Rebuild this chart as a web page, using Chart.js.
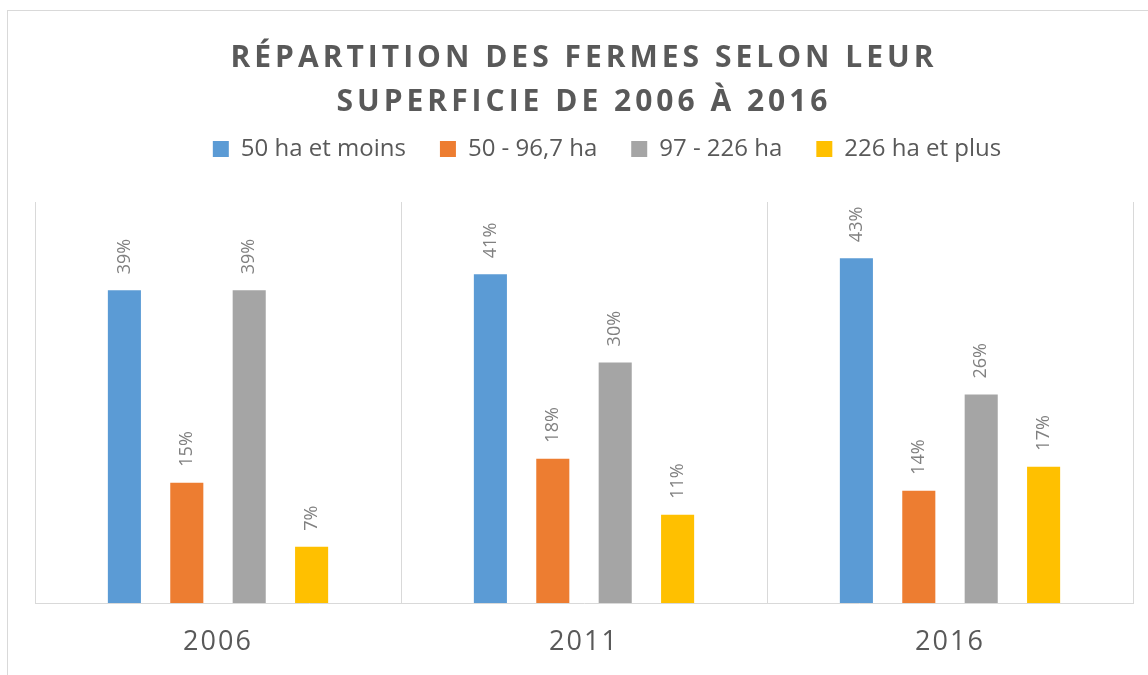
<!DOCTYPE html>
<html lang="fr">
<head>
<meta charset="utf-8">
<title>Répartition des fermes selon leur superficie de 2006 à 2016</title>
<script src="https://cdn.jsdelivr.net/npm/chart.js@4.4.1/dist/chart.umd.min.js"></script>
<style>
  html, body { margin: 0; padding: 0; background: #ffffff; overflow: hidden; }
  #frame { position: absolute; left: 7px; top: 10px; width: 1200px; height: 720px; border: 1px solid #d9d9d9; }
  #c { position: absolute; left: 0; top: 0; z-index: 1; }
</style>
</head>
<body>
<div id="frame"></div>
<canvas id="c" width="1148" height="675"></canvas>
<script>
const titleLines = ['RÉPARTITION DES FERMES SELON LEUR', 'SUPERFICIE DE 2006 À 2016'];
const years = ['2006', '2011', '2016'];
const seriesNames = ['50 ha et moins', '50 - 96,7 ha', '97 - 226 ha', '226 ha et plus'];
const seriesColors = ['#5b9bd5', '#ed7d31', '#a5a5a5', '#ffc000'];
const small50 = [39, 41, 43];
const mid50to96 = [15, 18, 14];
const mid97to226 = [39, 30, 26];
const large226 = [7, 11, 17];
const seriesValues = [small50, mid50to96, mid97to226, large226];

const FONT = '"Open Sans", "Noto Sans", sans-serif';
const TEXT_GREY = '#595959';

const tweaks = {
  id: 'tweaks',
  afterInit(chart) {
    const t = chart.titleBlock;
    if (t && !t._spaced) {
      const orig = t.draw;
      t.draw = function (area) {
        const c = chart.ctx;
        c.save();
        c.letterSpacing = '4px';
        orig.call(this, area);
        c.restore();
      };
      t._spaced = true;
    }
  },
  afterLayout(chart) {
    // Excel places the legend slightly right of centre
    chart.legend.left += 46;
    const s = chart.scales.x;
    if (s && !s._spaced) {
      const o = s.drawLabels;
      s.drawLabels = function (area) {
        const c = this.ctx;
        c.save();
        c.letterSpacing = '2px';
        o.call(this, area);
        c.restore();
      };
      s._spaced = true;
    }
  },
  afterDatasetsDraw(chart) {
    const ctx = chart.ctx;
    ctx.save();
    ctx.font = '18px ' + FONT;
    ctx.fillStyle = '#808080';
    ctx.textAlign = 'left';
    ctx.textBaseline = 'middle';
    chart.data.datasets.forEach((ds, i) => {
      chart.getDatasetMeta(i).data.forEach((bar, j) => {
        ctx.save();
        ctx.translate(bar.x, bar.y - 16);
        ctx.rotate(-Math.PI / 2);
        ctx.fillText(ds.data[j] + '%', 0, 0);
        ctx.restore();
      });
    });
    ctx.restore();
  }
};

new Chart(document.getElementById('c'), {
  type: 'bar',
  data: {
    labels: years,
    datasets: seriesNames.map((name, i) => ({
      label: name,
      data: seriesValues[i],
      backgroundColor: seriesColors[i],
      borderWidth: 0,
      categoryPercentage: 0.682,
      barPercentage: 0.53
    }))
  },
  options: {
    responsive: false,
    animation: false,
    layout: { padding: { left: 35, right: 15, top: 0, bottom: 0 } },
    plugins: {
      tooltip: { enabled: false },
      title: {
        display: true,
        text: titleLines,
        color: TEXT_GREY,
        font: { family: FONT, size: 30, weight: 'bold', lineHeight: 44 / 30 },
        padding: { top: 36, bottom: -21 }
      },
      legend: {
        display: true,
        position: 'top',
        labels: {
          color: TEXT_GREY,
          font: { family: FONT, size: 24 },
          boxWidth: 16,
          boxHeight: 16,
          padding: 34
        }
      },
      subtitle: {
        display: true,
        text: ' ',
        position: 'top',
        weight: 500,
        font: { size: 1, lineHeight: 1 },
        padding: { top: 30, bottom: 0 }
      }
    },
    scales: {
      x: {
        grid: { offset: true, color: '#d9d9d9', lineWidth: 1, drawTicks: false },
        border: { color: '#d9d9d9', width: 1 },
        ticks: { color: TEXT_GREY, font: { family: FONT, size: 27 }, padding: 23 },
        afterFit(scale) { scale.height = 72; }
      },
      y: {
        display: false,
        min: 0,
        max: 50
      }
    }
  },
  plugins: [tweaks]
});
</script>
</body>
</html>
